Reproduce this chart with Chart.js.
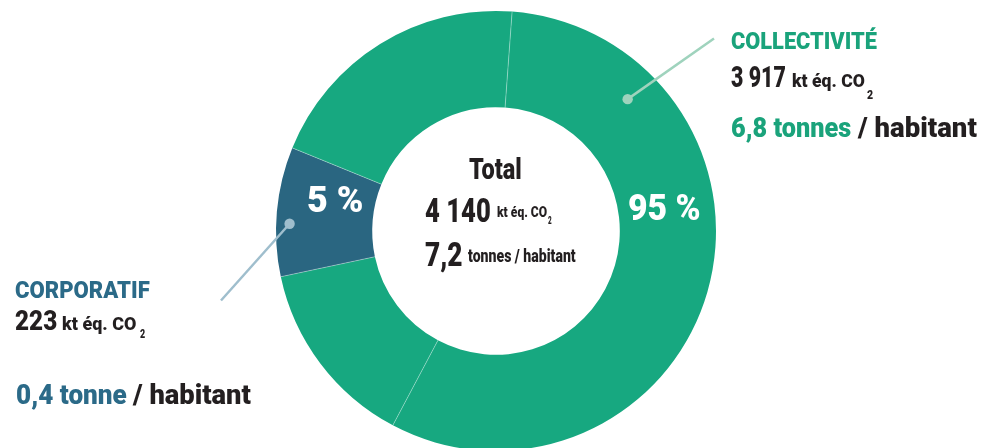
<!DOCTYPE html>
<html><head><meta charset="utf-8">
<script src="https://cdn.jsdelivr.net/npm/chart.js@4.4.1/dist/chart.umd.min.js"></script>
<style>
html,body{margin:0;padding:0;width:985px;height:448px;overflow:hidden;background:#fff;}
#wrap{position:absolute;left:0;top:0;width:992px;height:462px;}
.t{position:absolute;white-space:nowrap;font-family:Roboto,'Noto Sans',sans-serif;font-weight:900;line-height:1;transform-origin:0 0;}
.m{display:inline-block;width:0;height:0;vertical-align:baseline;}
</style></head><body>
<div id="wrap"><canvas id="c"></canvas></div>
<script>
// ---- data ----
const segmentLabels = ['Collectivité (a)', 'Collectivité (b)', 'Corporatif', 'Collectivité (c)'];
const segmentShares = [56.6, 13.9, 9.5, 20.0];   // share of the ring as drawn (%)
const groupNames = ['COLLECTIVITÉ', 'CORPORATIF'];
const groupEmissions = ['3 917', '223'];
const groupPerCapita = ['6,8 tonnes', '0,4 tonne'];
const groupPercents = ['95 %', '5 %'];
const totalTitle = 'Total';
const totalEmissions = '4 140';
const totalPerCapita = '7,2';
const unitCO2 = 'kt éq. CO';
const perHab = '/ habitant';

const GREEN = '#17a880', BLUE = '#2a6681';
const TGREEN = '#1aa37b', TBLUE = '#2b6a88', DARK = '#231f20';
const segmentColors = [GREEN, GREEN, BLUE, GREEN];

function addText(str, x, baseline, fs, w, color, align) {
  const el = document.createElement('div');
  el.className = 't';
  el.style.fontSize = fs + 'px';
  el.style.color = color;
  el.appendChild(document.createTextNode(str));
  const m = document.createElement('span'); m.className = 'm';
  el.appendChild(m);
  document.body.appendChild(el);
  const nat = el.offsetWidth;
  const bl = m.offsetTop;
  const s = w / nat;
  el.style.transform = 'scaleX(' + s + ')';
  el._bl = bl; el._w = w;
  place(el, x, baseline, align);
  return el;
}
function place(el, x, baseline, align) {
  el.style.left = (align === 'center' ? x - el._w / 2 : x) + 'px';
  el.style.top = (baseline - el._bl) + 'px';
}

// right block
addText(groupNames[0], 731, 48.5, 24, 146, TGREEN);
addText(groupEmissions[0], 730.5, 87, 29.5, 55, DARK);
addText(unitCO2, 792, 87, 19, 73, DARK);
addText('2', 866.5, 98.5, 13, 6.5, DARK);
addText(groupPerCapita[0], 731, 137, 28, 120, TGREEN);
addText(perHab, 858, 137, 28, 119, DARK);
// left block
addText(groupNames[1], 14.5, 297.5, 24, 134.5, TBLUE);
addText(groupEmissions[1], 14.5, 330, 28, 42.5, DARK);
addText(unitCO2, 62, 330, 19, 74.5, DARK);
addText('2', 140, 338, 13, 5.5, DARK);
addText(groupPerCapita[1], 16, 404, 28, 111, TBLUE);
addText(perHab, 132.5, 404, 28, 118, DARK);
// centre block
addText(totalTitle, 469, 178.5, 30, 52.5, DARK);
addText(totalEmissions, 424.5, 222, 33, 66, DARK);
addText(unitCO2, 496.5, 217, 15, 50, DARK);
addText('2', 548, 224, 10, 3.8, DARK);
addText(totalPerCapita, 424.5, 266, 33, 37.5, DARK);
addText('tonnes ' + perHab, 468, 262, 18, 108, DARK);

const pctEls = [
  addText(groupPercents[0], 0, 0, 37.5, 73, '#ffffff', 'center'),
  addText(groupPercents[1], 0, 0, 37.5, 56.5, '#ffffff', 'center')
];
const pctAnchors = [ {arc: 0, f: 0.38, g: 0.48}, {arc: 2, f: 0.68, g: 0.42} ];
const leaders = [
  {arc: 0, f: 0.20, g: 0.65, end: [714, 38.5], color: '#9fd3bd'},
  {arc: 2, f: 0.41, g: 0.86, end: [221, 300.5], color: '#9fbecd'}
];

const overlay = {
  id: 'overlay',
  afterDatasetsDraw(chart) {
    const ctx = chart.ctx;
    const arcs = chart.getDatasetMeta(0).data;
    const pt = (i, f, g) => {
      const a = arcs[i];
      const ang = a.startAngle + f * (a.endAngle - a.startAngle);
      const r = a.innerRadius + g * (a.outerRadius - a.innerRadius);
      return {x: a.x + Math.cos(ang) * r, y: a.y + Math.sin(ang) * r};
    };
    ctx.save();
    ctx.strokeStyle = 'rgba(255,255,255,0.35)';
    ctx.lineWidth = 1;
    arcs.forEach(a => {
      ctx.beginPath();
      ctx.moveTo(a.x + Math.cos(a.startAngle) * a.innerRadius, a.y + Math.sin(a.startAngle) * a.innerRadius);
      ctx.lineTo(a.x + Math.cos(a.startAngle) * a.outerRadius, a.y + Math.sin(a.startAngle) * a.outerRadius);
      ctx.stroke();
    });
    leaders.forEach(l => {
      const p = pt(l.arc, l.f, l.g);
      ctx.strokeStyle = l.color; ctx.fillStyle = l.color;
      ctx.lineWidth = 2.5;
      ctx.beginPath(); ctx.moveTo(p.x, p.y); ctx.lineTo(l.end[0], l.end[1]); ctx.stroke();
      ctx.beginPath(); ctx.arc(p.x, p.y, 5.2, 0, Math.PI * 2); ctx.fill();
    });
    ctx.restore();
    pctAnchors.forEach((an, k) => {
      const p = pt(an.arc, an.f, an.g);
      place(pctEls[k], p.x, p.y + 13.3, 'center');
    });
  }
};

new Chart(document.getElementById('c'), {
  type: 'doughnut',
  data: {
    labels: segmentLabels,
    datasets: [{
      data: segmentShares,
      backgroundColor: segmentColors,
      borderWidth: 0,
      hoverOffset: 0
    }]
  },
  options: {
    responsive: true,
    maintainAspectRatio: false,
    animation: false,
    events: [],
    rotation: 4.2,
    radius: 220,
    cutout: 130,
    layout: {padding: 0},
    plugins: {legend: {display: false}, tooltip: {enabled: false}}
  },
  plugins: [overlay]
});
</script>
</body></html>
